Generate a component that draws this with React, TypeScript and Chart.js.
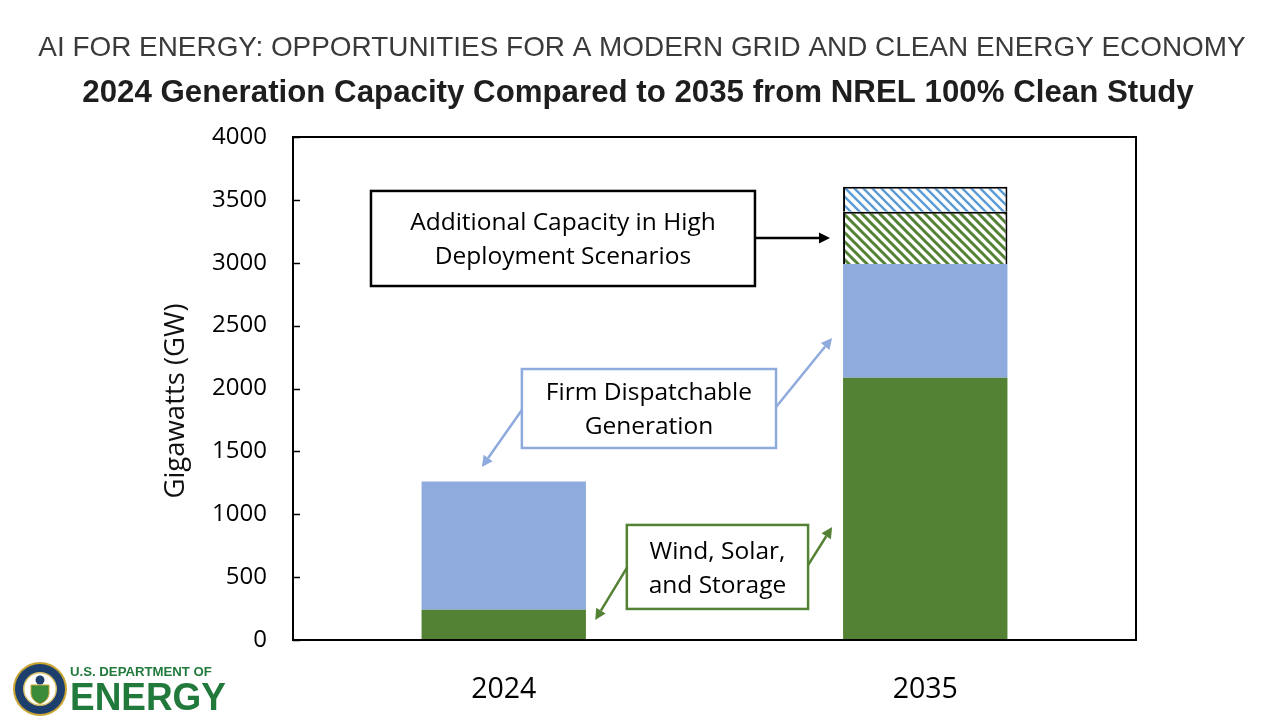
import React, { useEffect, useRef } from "react";
import { Chart, registerables } from "chart.js";

Chart.register(...registerables);

// ---- data ----
const categories = ["2024", "2035"];
const windSolarStorage = [240, 2085];
const firmDispatchable = [1020, 905];
const highWindSolarStorage = [null, 415];
const highFirmDispatchable = [null, 200];
const yTicks = [0, 500, 1000, 1500, 2000, 2500, 3000, 3500, 4000];

const titleTop = "AI FOR ENERGY: OPPORTUNITIES FOR A MODERN GRID AND CLEAN ENERGY ECONOMY";
const titleMain = "2024 Generation Capacity Compared to 2035 from NREL 100% Clean Study";
const yTitle = "Gigawatts (GW)";

// annotations in data coordinates (x = category index, y = GW)
const noteBoxes = [
  { lines: ["Additional Capacity in High", "Deployment Scenarios"], x0: -0.315, x1: 0.596, y0: 3571, y1: 2815, color: "#000000" },
  { lines: ["Firm Dispatchable", "Generation"], x0: 0.043, x1: 0.646, y0: 2155, y1: 1527, color: "#8FAADC" },
  { lines: ["Wind, Solar,", "and Storage"], x0: 0.292, x1: 0.722, y0: 915, y1: 247, color: "#548235" },
];
const noteArrows = [
  { from: [0.596, 3197], to: [0.774, 3197], color: "#000000" },
  { from: [0.043, 1829], to: [-0.052, 1376], color: "#8FAADC" },
  { from: [0.646, 1853], to: [0.779, 2402], color: "#8FAADC" },
  { from: [0.292, 573], to: [0.217, 159], color: "#548235" },
  { from: [0.722, 596], to: [0.779, 899], color: "#548235" },
];

const GREEN = "#548235";
const BLUE = "#8FAADC";
const FONT = "'Open Sans', 'Noto Sans', sans-serif";

function hatch(color: string, lw: number) {
  const s = 9;
  const c = document.createElement("canvas");
  c.width = s;
  c.height = s;
  const g = c.getContext("2d")!;
  g.fillStyle = "#ffffff";
  g.fillRect(0, 0, s, s);
  g.strokeStyle = color;
  g.lineWidth = lw;
  g.beginPath();
  g.moveTo(-2, -2);
  g.lineTo(s + 2, s + 2);
  g.moveTo(-2, s - 2);
  g.lineTo(2, s + 2);
  g.moveTo(s - 2, -2);
  g.lineTo(s + 2, 2);
  g.stroke();
  return g.createPattern(c, "repeat")!;
}

function fitFont(ctx: CanvasRenderingContext2D, text: string, weight: string, family: string, width: number) {
  ctx.font = `${weight} 100px ${family}`;
  const w = ctx.measureText(text).width;
  const size = (100 * width) / w;
  ctx.font = `${weight} ${size}px ${family}`;
}

function arrow(ctx: CanvasRenderingContext2D, x0: number, y0: number, x1: number, y1: number, color: string) {
  const ang = Math.atan2(y1 - y0, x1 - x0);
  const hl = 11;
  const hw = 5.5;
  const bx = x1 - hl * Math.cos(ang);
  const by = y1 - hl * Math.sin(ang);
  ctx.strokeStyle = color;
  ctx.lineWidth = 2.5;
  ctx.beginPath();
  ctx.moveTo(x0, y0);
  ctx.lineTo(bx, by);
  ctx.stroke();
  ctx.fillStyle = color;
  ctx.beginPath();
  ctx.moveTo(x1, y1);
  ctx.lineTo(bx + hw * Math.sin(ang), by - hw * Math.cos(ang));
  ctx.lineTo(bx - hw * Math.sin(ang), by + hw * Math.cos(ang));
  ctx.closePath();
  ctx.fill();
}

const decorPlugin = {
  id: "decor",
  beforeDraw(chart: any) {
    const ctx = chart.ctx as CanvasRenderingContext2D;
    ctx.save();
    ctx.fillStyle = "#ffffff";
    ctx.fillRect(0, 0, chart.width, chart.height);
    ctx.restore();
  },
  afterDatasetsDraw(chart: any) {
    const ctx = chart.ctx as CanvasRenderingContext2D;
    const xs = chart.scales.x;
    const ys = chart.scales.y;
    const a = chart.chartArea;
    const px0 = xs.getPixelForValue(0);
    const step = xs.getPixelForValue(1) - px0;
    const X = (v: number) => px0 + v * step;
    const Y = (v: number) => ys.getPixelForValue(v);

    ctx.save();
    // frame
    ctx.strokeStyle = "#000";
    ctx.lineWidth = 2;
    ctx.strokeRect(a.left, a.top, a.right - a.left, a.bottom - a.top);
    // inward ticks
    ctx.lineWidth = 1.5;
    yTicks.forEach((t) => {
      const y = Math.round(Y(t)) + 0.5;
      ctx.beginPath();
      ctx.moveTo(a.left, y);
      ctx.lineTo(a.left + 7, y);
      ctx.stroke();
    });

    // arrows
    noteArrows.forEach((ar) => arrow(ctx, X(ar.from[0]), Y(ar.from[1]), X(ar.to[0]), Y(ar.to[1]), ar.color));

    // boxes
    noteBoxes.forEach((b) => {
      const l = X(b.x0), r = X(b.x1), t = Y(b.y0), bt = Y(b.y1);
      ctx.fillStyle = "#fff";
      ctx.fillRect(l, t, r - l, bt - t);
      ctx.strokeStyle = b.color;
      ctx.lineWidth = 2.5;
      ctx.strokeRect(l, t, r - l, bt - t);
      ctx.fillStyle = "#000";
      ctx.font = `24.5px ${FONT}`;
      ctx.textAlign = "center";
      ctx.textBaseline = "middle";
      const cx = (l + r) / 2;
      const cy = (t + bt) / 2;
      ctx.fillText(b.lines[0], cx, cy - 15);
      ctx.fillText(b.lines[1], cx, cy + 19);
    });
    ctx.restore();
  },
  afterDraw(chart: any) {
    const ctx = chart.ctx as CanvasRenderingContext2D;
    ctx.save();
    // titles
    ctx.textAlign = "center";
    ctx.textBaseline = "middle";
    ctx.fillStyle = "#3a3a3a";
    fitFont(ctx, titleTop, "normal", "'Liberation Sans', Arial, sans-serif", 1208);
    ctx.fillText(titleTop, 642, 48);
    ctx.fillStyle = "#1e1e1e";
    fitFont(ctx, titleMain, "bold", "'Liberation Sans', Arial, sans-serif", 1112);
    ctx.fillText(titleMain, 638, 93);

    // y title
    ctx.save();
    ctx.translate(176, 401);
    ctx.rotate(-Math.PI / 2);
    ctx.fillStyle = "#111";
    ctx.font = `27.5px ${FONT}`;
    ctx.fillText(yTitle, 0, 0);
    ctx.restore();

    // DOE logo
    const cx = 40, cy = 689;
    ctx.beginPath();
    ctx.arc(cx, cy, 27, 0, Math.PI * 2);
    ctx.fillStyle = "#c9a532";
    ctx.fill();
    ctx.beginPath();
    ctx.arc(cx, cy, 25, 0, Math.PI * 2);
    ctx.fillStyle = "#1d3f6e";
    ctx.fill();
    ctx.beginPath();
    ctx.arc(cx, cy, 17, 0, Math.PI * 2);
    ctx.fillStyle = "#d9c26a";
    ctx.fill();
    ctx.beginPath();
    ctx.arc(cx, cy, 15.5, 0, Math.PI * 2);
    ctx.fillStyle = "#ffffff";
    ctx.fill();
    // shield
    ctx.beginPath();
    ctx.moveTo(cx - 9, cy - 4);
    ctx.lineTo(cx + 9, cy - 4);
    ctx.lineTo(cx + 9, cy + 5);
    ctx.quadraticCurveTo(cx + 8, cy + 12, cx, cy + 15);
    ctx.quadraticCurveTo(cx - 8, cy + 12, cx - 9, cy + 5);
    ctx.closePath();
    ctx.fillStyle = "#3a8a3a";
    ctx.fill();
    ctx.strokeStyle = "#c9a532";
    ctx.lineWidth = 1;
    ctx.stroke();
    ctx.beginPath();
    ctx.arc(cx, cy - 9, 4.5, 0, Math.PI * 2);
    ctx.fillStyle = "#1d3f6e";
    ctx.fill();

    ctx.textAlign = "left";
    ctx.textBaseline = "alphabetic";
    ctx.fillStyle = "#217a3c";
    fitFont(ctx, "U.S. DEPARTMENT OF", "bold", "'Liberation Sans', Arial, sans-serif", 142);
    ctx.fillText("U.S. DEPARTMENT OF", 70, 676);
    fitFont(ctx, "ENERGY", "900", "'Liberation Sans', Arial, sans-serif", 156);
    ctx.save();
    ctx.translate(70, 710);
    ctx.scale(1, 1.05);
    ctx.fillText("ENERGY", 0, 0);
    ctx.restore();
    ctx.restore();
  },
};

export default function App() {
  const ref = useRef<HTMLCanvasElement>(null);
  useEffect(() => {
    const canvas = ref.current!;
    const chart = new Chart(canvas, {
      type: "bar",
      data: {
        labels: categories,
        datasets: [
          { label: "Wind, Solar, and Storage", data: windSolarStorage, backgroundColor: GREEN, borderWidth: 0 },
          { label: "Firm Dispatchable Generation", data: firmDispatchable, backgroundColor: BLUE, borderWidth: 0 },
          { label: "Additional Wind, Solar, and Storage (High Deployment)", data: highWindSolarStorage as any, backgroundColor: hatch(GREEN, 3), borderColor: "#000", borderWidth: 2 },
          { label: "Additional Firm Dispatchable (High Deployment)", data: highFirmDispatchable as any, backgroundColor: hatch("#5B9BD5", 2.4), borderColor: "#000", borderWidth: 2 },
        ],
      },
      options: {
        responsive: false,
        animation: false,
        barPercentage: 0.39,
        categoryPercentage: 1,
        layout: { padding: { top: 137, right: 144, left: 0, bottom: 0 } },
        plugins: { legend: { display: false }, tooltip: { enabled: false }, title: { display: false } },
        scales: {
          x: {
            stacked: true,
            grid: { display: false, drawTicks: false },
            border: { display: false },
            ticks: { font: { family: FONT, size: 28.5 }, color: "#000", padding: 33 },
            afterFit: (s: any) => { s.height = 80; },
          },
          y: {
            stacked: true,
            min: 0,
            max: 4000,
            afterBuildTicks: (s: any) => { s.ticks = yTicks.map((v) => ({ value: v })); },
            ticks: { font: { family: FONT, size: 24 }, color: "#000", padding: 26, callback: (v: any) => String(v) },
            grid: { display: false, drawTicks: false },
            border: { display: false },
            afterFit: (s: any) => { s.width = 293; },
          },
        },
      } as any,
      plugins: [decorPlugin],
    });
    return () => chart.destroy();
  }, []);
  return (
    <div style={{ position: "fixed", left: 0, top: 0, width: 1280, height: 720, background: "#fff" }}>
      <canvas ref={ref} width={1280} height={720} style={{ width: 1280, height: 720, display: "block" }} />
    </div>
  );
}
